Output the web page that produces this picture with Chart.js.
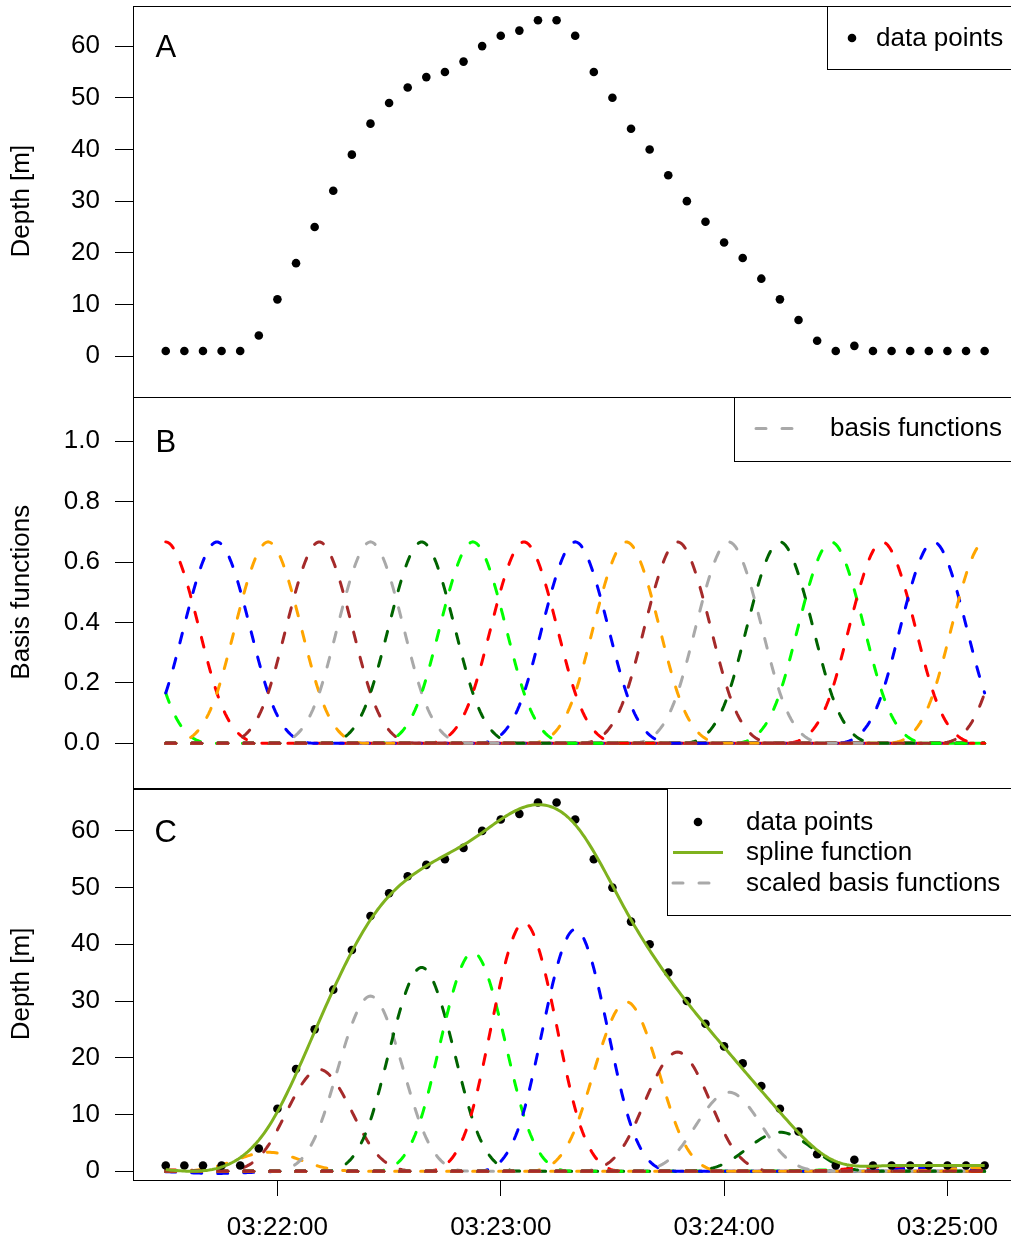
<!DOCTYPE html>
<html>
<head>
<meta charset="utf-8">
<script src="https://cdn.jsdelivr.net/npm/chart.js@4.4.1/dist/chart.umd.min.js"></script>
<style>
  html, body { margin: 0; padding: 0; background: #fff; overflow: hidden; width: 1011px; height: 1242px; }
  canvas { position: absolute; left: 0; top: 0; }
</style>
</head>
<body>
<canvas id="panelA" width="1040" height="1242"></canvas>
<canvas id="panelB" width="1040" height="1242"></canvas>
<canvas id="panelC" width="1040" height="1242"></canvas>
<script>
// ---- dive profile samples ----
const times = ["03:21:30","03:21:35","03:21:40","03:21:45","03:21:50","03:21:55",
  "03:22:00","03:22:05","03:22:10","03:22:15","03:22:20","03:22:25","03:22:30","03:22:35","03:22:40","03:22:45","03:22:50","03:22:55",
  "03:23:00","03:23:05","03:23:10","03:23:15","03:23:20","03:23:25","03:23:30","03:23:35","03:23:40","03:23:45","03:23:50","03:23:55",
  "03:24:00","03:24:05","03:24:10","03:24:15","03:24:20","03:24:25","03:24:30","03:24:35","03:24:40","03:24:45","03:24:50","03:24:55",
  "03:25:00","03:25:05","03:25:10"];
const depth = [1,1,1,1,1,4,11,18,25,32,39,45,49,52,54,55,57,60,62,63,65,65,62,55,50,44,40,35,30,26,22,19,15,11,7,3,1,2,1,1,1,1,1,1,1];

// ---- axis ticks ----
const timeTicks = ["03:22:00","03:23:00","03:24:00","03:25:00"];
const depthTicks = [0,10,20,30,40,50,60];
const basisTicks = [0,0.2,0.4,0.6,0.8,1.0];

// ---- cubic B-spline basis: uniform knots over the dive, and fitted coefficients ----
const knotRange = ["03:21:30","03:25:10"];
const knotIntervals = 16;
const splineCoefs = [1.0,0.3,-0.6,5.0,26.9,46.3,53.9,57.9,65.8,64.0,44.8,31.5,20.9,10.3,0.3,1.1,0.95,1.0,1.0];
const basisColors = ["#00ff00","#ff0000","#0000ff","#ffa500","#a52a2a","#a9a9a9","#006400"];

const FONT = '"Liberation Sans", Arial, Helvetica, sans-serif';
Chart.defaults.font.family = FONT;
Chart.defaults.font.size = 26;
Chart.defaults.color = '#000';

const toSec = s => { const [h, m, x] = s.split(':').map(Number); return h * 3600 + m * 60 + x; };
const two = n => String(n).padStart(2, '0');
const fmtTime = v => { const t = Math.round(v); return two(Math.floor(t / 3600)) + ':' + two(Math.floor(t / 60) % 60) + ':' + two(t % 60); };

const xs = times.map(toSec);
const tStart = toSec(knotRange[0]), tEnd = toSec(knotRange[1]);
const step = (tEnd - tStart) / knotIntervals;
const xPad = 0.04 * (tEnd - tStart);
const xMin = tStart - xPad, xMax = tEnd + xPad;

// uniform cubic B-spline of unit knot spacing, centred on 0
function bspline(u) {
  u = Math.abs(u);
  if (u < 1) return 2 / 3 - u * u + u * u * u / 2;
  if (u < 2) return Math.pow(2 - u, 3) / 6;
  return 0;
}
const grid = [];
for (let t = tStart; t <= tEnd + 1e-9; t += 0.5) grid.push(t);
const basis = splineCoefs.map((c, k) => {
  const centre = tStart + (k - 1) * step;
  return grid.map(t => bspline((t - centre) / step));
});
const spline = grid.map((t, i) => splineCoefs.reduce((s, c, k) => s + c * basis[k][i], 0));

const pointData = xs.map((x, i) => ({ x, y: depth[i] }));
const curve = vals => grid.map((t, i) => ({ x: t, y: vals[i] }));

const CANVAS_W = 1040, CANVAS_H = 1242;
const PLOT_LEFT = 133, PLOT_RIGHT = 1017.4;

// frame, panel letter and legend box
const panelDecor = {
  id: 'panelDecor',
  afterDraw(chart, args, opts) {
    const { ctx, chartArea: a, scales } = chart;
    ctx.save();
    ctx.strokeStyle = '#000';
    ctx.lineWidth = 1;
    ctx.strokeRect(Math.round(a.left) + 0.5, Math.round(a.top) + 0.5, Math.round(a.right - a.left), Math.round(a.bottom - a.top));

    ctx.fillStyle = '#000';
    ctx.font = '31px ' + FONT;
    ctx.textAlign = 'center';
    ctx.textBaseline = 'alphabetic';
    ctx.fillText(opts.letter, scales.x.getPixelForValue(tStart), scales.y.getPixelForValue(opts.letterY) + 11);

    const lg = opts.legend;
    const bx = lg.left, by = a.top, bw = a.right - lg.left;
    ctx.fillStyle = '#fff';
    ctx.fillRect(bx, by, bw, lg.height);
    ctx.strokeStyle = '#000';
    ctx.strokeRect(Math.round(bx) + 0.5, Math.round(by) + 0.5, Math.round(bw), Math.round(lg.height));
    lg.rows.forEach(r => {
      const y = by + r.dy;
      if (r.kind === 'point') {
        ctx.fillStyle = '#000';
        ctx.beginPath();
        ctx.arc(bx + lg.symX, y, 4.3, 0, Math.PI * 2);
        ctx.fill();
      } else {
        ctx.strokeStyle = r.color;
        ctx.lineWidth = 3;
        ctx.lineCap = r.kind === 'dash' ? 'round' : 'butt';
        ctx.setLineDash(r.kind === 'dash' ? [10, 16] : []);
        ctx.beginPath();
        ctx.moveTo(bx + lg.lineX0, y);
        ctx.lineTo(bx + lg.lineX1, y);
        ctx.stroke();
        ctx.setLineDash([]);
      }
      ctx.fillStyle = '#000';
      ctx.font = '26px ' + FONT;
      ctx.textAlign = 'left';
      ctx.textBaseline = 'alphabetic';
      ctx.fillText(r.label, bx + lg.textX, y + 7.5);
    });
    ctx.restore();
  }
};

function yScale(min, max, ticks, title, fmt) {
  return {
    type: 'linear', position: 'left', min, max,
    afterBuildTicks: s => { s.ticks = ticks.map(v => ({ value: v })); },
    afterFit: s => { s.width = PLOT_LEFT; s.paddingTop = 0; s.paddingBottom = 0; },
    grid: { display: true, drawOnChartArea: false, drawTicks: true, tickLength: 18, color: '#000', lineWidth: 1 },
    border: { display: false },
    ticks: { padding: 15, color: '#000', font: { size: 26 }, autoSkip: false, maxRotation: 0, callback: fmt },
    title: { display: true, text: title, color: '#000', font: { size: 26 }, padding: { top: 6.4, bottom: 0 } }
  };
}

function xScale(show) {
  return {
    type: 'linear', position: 'bottom', min: xMin, max: xMax, display: show,
    afterBuildTicks: s => { s.ticks = timeTicks.map(v => ({ value: toSec(v) })); },
    afterFit: s => { if (show) s.height = 62; s.paddingLeft = 0; s.paddingRight = 0; },
    grid: { display: true, drawOnChartArea: false, drawTicks: true, tickLength: 16, color: '#000', lineWidth: 1 },
    border: { display: false },
    ticks: { padding: 16.4, color: '#000', font: { size: 26 }, autoSkip: false, maxRotation: 0, callback: v => fmtTime(v) }
  };
}

function basisSets(scale) {
  return basis.map((b, k) => ({
    data: curve(b.map(v => v * (scale ? splineCoefs[k] : 1))),
    showLine: true, pointRadius: 0, borderWidth: 3,
    borderColor: basisColors[k % basisColors.length],
    borderDash: [10, 16], borderCapStyle: 'round',
    order: 2 + (basis.length - 1 - k)
  }));
}

const pointSet = { data: pointData, pointRadius: 4.3, pointHoverRadius: 4.3, backgroundColor: '#000', borderWidth: 0, showLine: false, order: 1 };

function makeChart(id, top, bottom, showX, yCfg, datasets, decor) {
  return new Chart(document.getElementById(id), {
    type: 'scatter',
    data: { datasets },
    options: {
      responsive: false, animation: false, devicePixelRatio: 1,
      layout: { padding: { top, bottom, left: 0, right: CANVAS_W - PLOT_RIGHT } },
      scales: { x: xScale(showX), y: yCfg },
      plugins: { legend: { display: false }, tooltip: { enabled: false }, panelDecor: decor }
    },
    plugins: [panelDecor]
  });
}

// A: raw depth samples
makeChart('panelA', 5.8, CANVAS_H - 396.5, false,
  yScale(-7.8, 67.8, depthTicks, 'Depth [m]', v => String(v)),
  [pointSet],
  { letter: 'A', letterY: 60,
    legend: { left: 827, height: 62.5, symX: 25, textX: 49,
      rows: [{ kind: 'point', dy: 32.2, label: 'data points' }] } });

// B: the basis functions themselves
makeChart('panelB', 396.5, CANVAS_H - 788, false,
  yScale(-0.148, 1.148, basisTicks, 'Basis functions', v => v.toFixed(1)),
  basisSets(false),
  { letter: 'B', letterY: 1.0,
    legend: { left: 734, height: 63.5, lineX0: 22, lineX1: 72, textX: 96,
      rows: [{ kind: 'dash', color: '#a9a9a9', dy: 32, label: 'basis functions' }] } });

// C: scaled basis functions summing to the fitted spline
makeChart('panelC', 788, 0, true,
  yScale(-1.56, 67.56, depthTicks, 'Depth [m]', v => String(v)),
  [pointSet,
   { data: curve(spline), showLine: true, pointRadius: 0, borderWidth: 3, borderColor: '#7fb21e', order: 0 },
   ...basisSets(true)],
  { letter: 'C', letterY: 60,
    legend: { left: 667, height: 127, symX: 31, lineX0: 6, lineX1: 56, textX: 79,
      rows: [{ kind: 'point', dy: 34, label: 'data points' },
             { kind: 'line', color: '#7fb21e', dy: 64.5, label: 'spline function' },
             { kind: 'dash', color: '#a9a9a9', dy: 95, label: 'scaled basis functions' }] } });
</script>
</body>
</html>
